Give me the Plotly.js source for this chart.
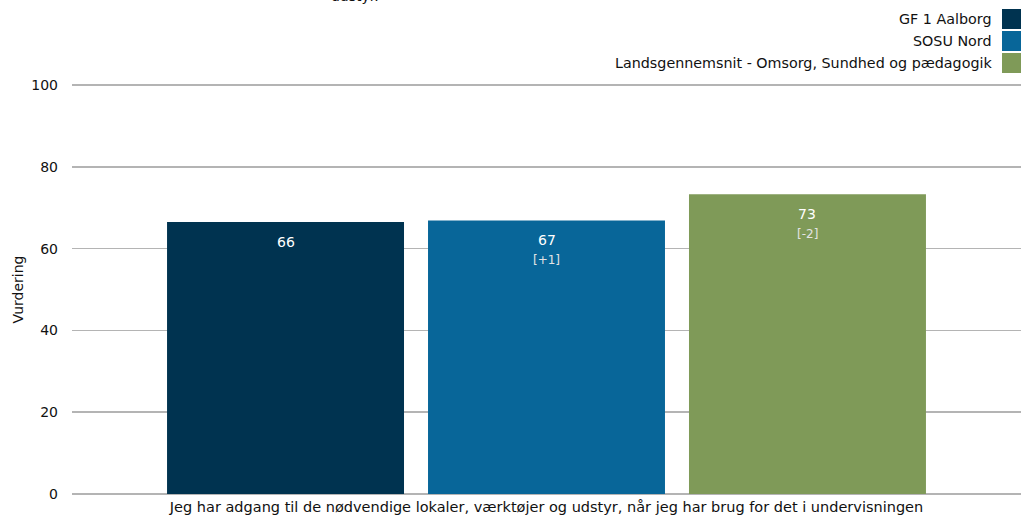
<!DOCTYPE html>
<html>
<head>
<meta charset="utf-8">
<script src="https://cdn.plot.ly/plotly-3.0.1.min.js"></script>
<style>html,body{margin:0;padding:0;background:#fff;}#chart{width:1027px;height:521px;}</style>
</head>
<body>
<div id="chart"></div>
<script>
const categories = ["Jeg har adgang til de nødvendige lokaler, værktøjer og udstyr, når jeg har brug for det i undervisningen"];
const seriesNames = ["GF 1 Aalborg", "SOSU Nord", "Landsgennemsnit - Omsorg, Sundhed og pædagogik"];
const values = [66.5, 66.9, 73.3];
const valueLabels = ["66", "67", "73"];
const diffLabels = ["", "[+1]", "[-2]"];
const colors = ["#003350", "#086699", "#7f9a58"];
const yTicks = [0, 20, 40, 60, 80, 100];
const titleFragment = "udstyr.";
const yTitle = "Vurdering";

const FONT = "DejaVu Sans, Verdana, sans-serif";
const TXT = "#111111";
const W = 1027, H = 521;
const margin = {l: 72, r: 6, t: 83, b: 25};
const plotH = H - margin.t - margin.b;
const plotW = W - margin.l - margin.r;
const bargap = 0.175, bargroupgap = 0.092;
const yMin = -0.5, yMax = 100.5;

function py(pixY) { return (H - margin.b - pixY) / plotH; }
function px(pixX) { return (pixX - margin.l) / plotW; }

const traces = seriesNames.map((name, i) => ({
  type: "bar",
  name: name,
  x: categories,
  y: [values[i]],
  base: 0,
  marker: {color: colors[i], line: {width: 0}},
  hoverinfo: "none",
  showlegend: false
}));

const annotations = [];
const shapes = [];
const slot = (1 - bargap) / seriesNames.length;
seriesNames.forEach((name, i) => {
  const xc = (i - (seriesNames.length - 1) / 2) * slot;
  annotations.push({
    xref: "x", yref: "y", x: xc, y: values[i], yshift: -20,
    text: valueLabels[i], showarrow: false, xanchor: "center", yanchor: "middle",
    font: {family: FONT, size: 14, color: "#ffffff"}
  });
  if (diffLabels[i]) {
    annotations.push({
      xref: "x", yref: "y", x: xc, y: values[i], yshift: -40,
      text: diffLabels[i], showarrow: false, xanchor: "center", yanchor: "middle",
      font: {family: FONT, size: 12, color: "#e4e4e4"}
    });
  }
  // manual legend
  const rowTop = 9 + i * 22;
  annotations.push({
    xref: "paper", yref: "paper", x: px(994), y: py(rowTop + 10),
    text: name, showarrow: false, xanchor: "right", yanchor: "middle",
    font: {family: FONT, size: 14.3, color: TXT}
  });
  shapes.push({
    type: "rect", xref: "paper", yref: "paper",
    x0: px(1002), x1: px(1021), y0: py(rowTop + 20), y1: py(rowTop),
    fillcolor: colors[i], line: {width: 0}
  });
});

annotations.push({
  xref: "paper", yref: "paper", x: px(355), y: py(6),
  text: titleFragment, showarrow: false, xanchor: "center", yanchor: "bottom",
  font: {family: FONT, size: 14, color: TXT}
});

const layout = {
  width: W, height: H,
  margin: margin,
  paper_bgcolor: "#ffffff", plot_bgcolor: "#ffffff",
  font: {family: FONT, size: 14, color: TXT},
  barmode: "group", bargap: bargap, bargroupgap: bargroupgap,
  showlegend: false,
  xaxis: {
    type: "category", range: [-0.5, 0.5],
    showgrid: false, zeroline: false, showline: false, ticks: "",
    tickfont: {family: FONT, size: 14.5, color: TXT}
  },
  yaxis: {
    range: [yMin, yMax], tickvals: yTicks, ticktext: yTicks.map(String),
    showgrid: true, gridcolor: "#b4b4b4", gridwidth: 1.5,
    zeroline: false, showline: false, ticks: "",
    ticklabelstandoff: 13,
    tickfont: {family: FONT, size: 14, color: TXT},
    title: {text: yTitle, font: {family: FONT, size: 14, color: TXT}, standoff: 4}
  },
  annotations: annotations,
  shapes: shapes
};

Plotly.newPlot("chart", traces, layout, {displayModeBar: false, staticPlot: true});
</script>
</body>
</html>
